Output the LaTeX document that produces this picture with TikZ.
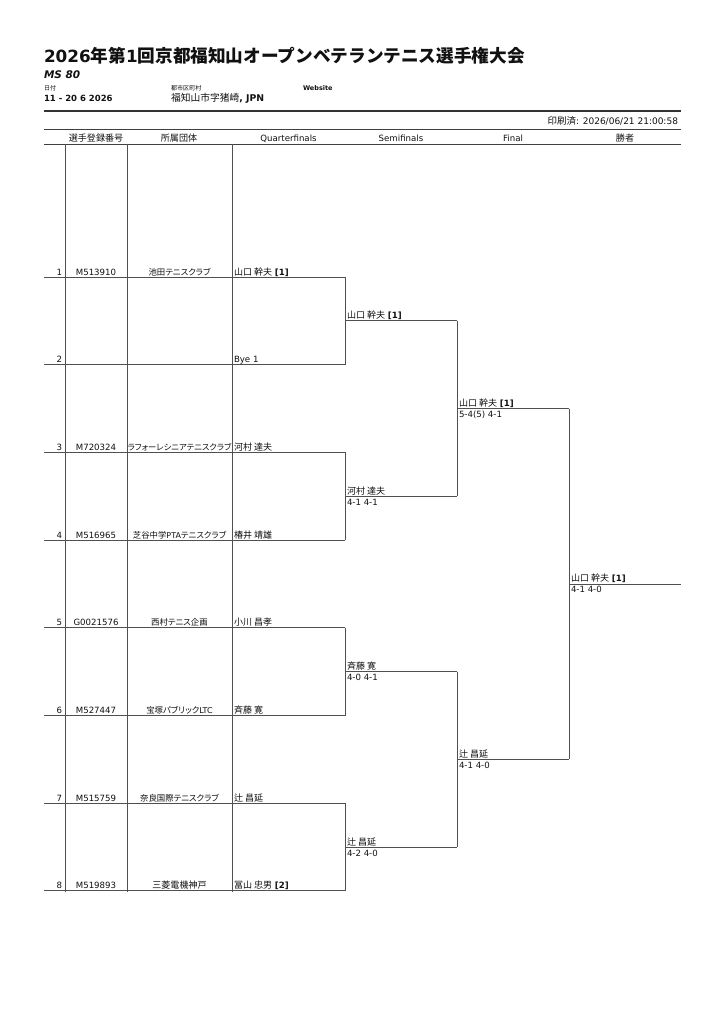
\documentclass[tikz,border=0pt]{standalone}
\usepackage{fontspec}
\usetikzlibrary{calc}
\setmainfont{DejaVu Sans}
\newfontfamily\cjk[Scale=1.05,RawFeature=+palt]{Noto Sans CJK JP}
\newfontfamily\cjkt[Scale=1.05]{Noto Sans CJK JP}
\newcommand\J[1]{{\cjk #1}}
\newcommand\JT[1]{{\cjkt #1}}
\definecolor{txt}{HTML}{111111}
\definecolor{lc}{HTML}{505050}
\begin{document}
\begin{tikzpicture}[x=1pt,y=-1pt,
  every node/.style={inner sep=0pt,outer sep=0pt,text=txt},
  ln/.style={draw=lc,line width=0.9pt},
  rowt/.style={anchor=base,font=\fontsize{8.6}{10}\selectfont},
  club/.style={anchor=base,font=\fontsize{8}{10}\selectfont},
  rowl/.style={anchor=base west,font=\fontsize{8.6}{10}\selectfont},
  rowr/.style={anchor=base east,font=\fontsize{8.6}{10}\selectfont},
  hd/.style={anchor=base,font=\fontsize{8.6}{10}\selectfont}]
\useasboundingbox (0,0) rectangle (724,1024);
\fill[white] (0,0) rectangle (724,1024);
% header
\node[anchor=base west,font=\fontsize{16.8}{18}\selectfont\bfseries] (title) at (44,63)
  {2026\JT{年第}1\JT{回京都福知山オープンベテランテニス選手権大会}};
\node[anchor=base west,font=\fontsize{10.5}{12}\selectfont\bfseries\itshape] (ms) at (44,79) {MS 80};
\node[anchor=base west,font=\fontsize{5.8}{7}\selectfont] (dl) at (44,91) {\J{日付}};
\node[anchor=base west,font=\fontsize{8.5}{10}\selectfont\bfseries] (dv) at (44,102) {11 - 20 6 2026};
\node[anchor=base west,font=\fontsize{5.8}{7}\selectfont] (cl) at (171,91) {\J{都市区町村}};
\node[anchor=base west,font=\fontsize{9.3}{10}\selectfont] (cv) at (171,102) {\J{福知山市字猪崎}\textbf{, JPN}};
\node[anchor=base west,font=\fontsize{6.5}{8}\selectfont\bfseries] (ws) at (303,91) {Website};
\coordinate (h1a) at (44,111); \coordinate (h1b) at (681,111);
\draw[draw=black!80,line width=2pt] (h1a) -- (h1b);
\node[anchor=base east,font=\fontsize{9}{10}\selectfont] (pr) at (678,124.5) {\J{印刷済}: 2026/06/21 21:00:58};
\coordinate (h2a) at (44,129); \coordinate (h2b) at (681,129);
\coordinate (h3a) at (44,144); \coordinate (h3b) at (681,144);
\draw[ln,draw=black!75] (h2a) -- (h2b);
\draw[ln,draw=black!75] (h3a) -- (h3b);
\node[hd] (c1) at (96,141.5) {\J{選手登録番号}};
\node[hd] (c2) at (179,141.5) {\J{所属団体}};
\node[hd] (c3) at (288.5,141.5) {Quarterfinals};
\node[hd] (c4) at (401,141.5) {Semifinals};
\node[hd] (c5) at (513,141.5) {Final};
\node[hd] (c6) at (625,141.5) {\J{勝者}};
% column verticals
\foreach \xx/\nm in {65/v1,127/v2,232/v3}{
  \coordinate (\nm t) at (\xx,144); \coordinate (\nm b) at (\xx,892);
  \draw[ln] (\nm t) -- (\nm b);
}
% rows
\foreach \i in {1,...,8}{
  \pgfmathsetmacro\yy{277+87.7*(\i-1)}
  \coordinate (L\i) at (44,\yy); \coordinate (R\i) at (345,\yy);
  \draw[ln] (L\i) -- (R\i);
}
% QF brackets
\foreach \a/\b/\k in {1/2/1,3/4/2,5/6/3,7/8/4}{
  \draw[ln] (R\a) -- (R\b);
  \coordinate (S\k) at ($(R\a)!0.5!(R\b)$);
  \coordinate (T\k) at ([xshift=112]S\k);
  \draw[ln] (S\k) -- (T\k);
}
% SF brackets
\foreach \a/\b/\k in {1/2/1,3/4/2}{
  \draw[ln] (T\a) -- (T\b);
  \coordinate (F\k) at ($(T\a)!0.5!(T\b)$);
  \coordinate (G\k) at ([xshift=112]F\k);
  \draw[ln] (F\k) -- (G\k);
}
\draw[ln] (G1) -- (G2);
\coordinate (W) at ($(G1)!0.5!(G2)$);
\coordinate (WE) at ([xshift=112]W);
\draw[ln] (W) -- (WE);
% row texts
\node[rowr] (n1) at (62,275) {1};
\node[rowt] (i1) at (96,275) {M513910};
\node[club] (k1) at (179.5,275) {\J{池田テニスクラブ}};
\node[rowl] (q1) at (234,275) {\J{山口 幹夫} \textbf{[1]}};
\node[rowr] (n2) at (62,362.7) {2};
\node[rowl] (q2) at (234,362.7) {Bye 1};
\node[rowr] (n3) at (62,450.4) {3};
\node[rowt] (i3) at (96,450.4) {M720324};
\node[club,font=\fontsize{7.9}{10}\selectfont] (k3) at (179.5,450.4) {\J{ラフォーレシニアテニスクラブ}};
\node[rowl] (q3) at (234,450.4) {\J{河村 達夫}};
\node[rowr] (n4) at (62,538.1) {4};
\node[rowt] (i4) at (96,538.1) {M516965};
\node[club] (k4) at (179.5,538.1) {\J{芝谷中学}PTA\J{テニスクラブ}};
\node[rowl] (q4) at (234,538.1) {\J{椿井 靖雄}};
\node[rowr] (n5) at (62,625.8) {5};
\node[rowt] (i5) at (96,625.8) {G0021576};
\node[club] (k5) at (179.5,625.8) {\J{西村テニス企画}};
\node[rowl] (q5) at (234,625.8) {\J{小川 昌孝}};
\node[rowr] (n6) at (62,713.5) {6};
\node[rowt] (i6) at (96,713.5) {M527447};
\node[club] (k6) at (179.5,713.5) {\J{宝塚パブリック}LTC};
\node[rowl] (q6) at (234,713.5) {\J{斉藤 寛}};
\node[rowr] (n7) at (62,801.2) {7};
\node[rowt] (i7) at (96,801.2) {M515759};
\node[club] (k7) at (179.5,801.2) {\J{奈良国際テニスクラブ}};
\node[rowl] (q7) at (234,801.2) {\J{辻 昌延}};
\node[rowr] (n8) at (62,888.9) {8};
\node[rowt] (i8) at (96,888.9) {M519893};
\node[rowt] (k8) at (179.5,888.9) {\J{三菱電機神戸}};
\node[rowl] (q8) at (234,888.9) {\J{冨山 忠男} \textbf{[2]}};
% semifinal labels
\node[rowl] (sn1) at ([shift={(2,-2)}]S1) {\J{山口 幹夫} \textbf{[1]}};
\node[rowl] (sn2) at ([shift={(2,-2)}]S2) {\J{河村 達夫}};
\node[rowl] (ss2) at ([shift={(2,9)}]S2) {4-1 4-1};
\node[rowl] (sn3) at ([shift={(2,-2)}]S3) {\J{斉藤 寛}};
\node[rowl] (ss3) at ([shift={(2,9)}]S3) {4-0 4-1};
\node[rowl] (sn4) at ([shift={(2,-2)}]S4) {\J{辻 昌延}};
\node[rowl] (ss4) at ([shift={(2,9)}]S4) {4-2 4-0};
% final labels
\node[rowl] (fn1) at ([shift={(2,-2)}]F1) {\J{山口 幹夫} \textbf{[1]}};
\node[rowl] (fs1) at ([shift={(2,9)}]F1) {5-4(5) 4-1};
\node[rowl] (fn2) at ([shift={(2,-2)}]F2) {\J{辻 昌延}};
\node[rowl] (fs2) at ([shift={(2,9)}]F2) {4-1 4-0};
% winner
\node[rowl] (wn) at ([shift={(2,-2)}]W) {\J{山口 幹夫} \textbf{[1]}};
\node[rowl] (wsc) at ([shift={(2,9)}]W) {4-1 4-0};
\end{tikzpicture}
\end{document}
